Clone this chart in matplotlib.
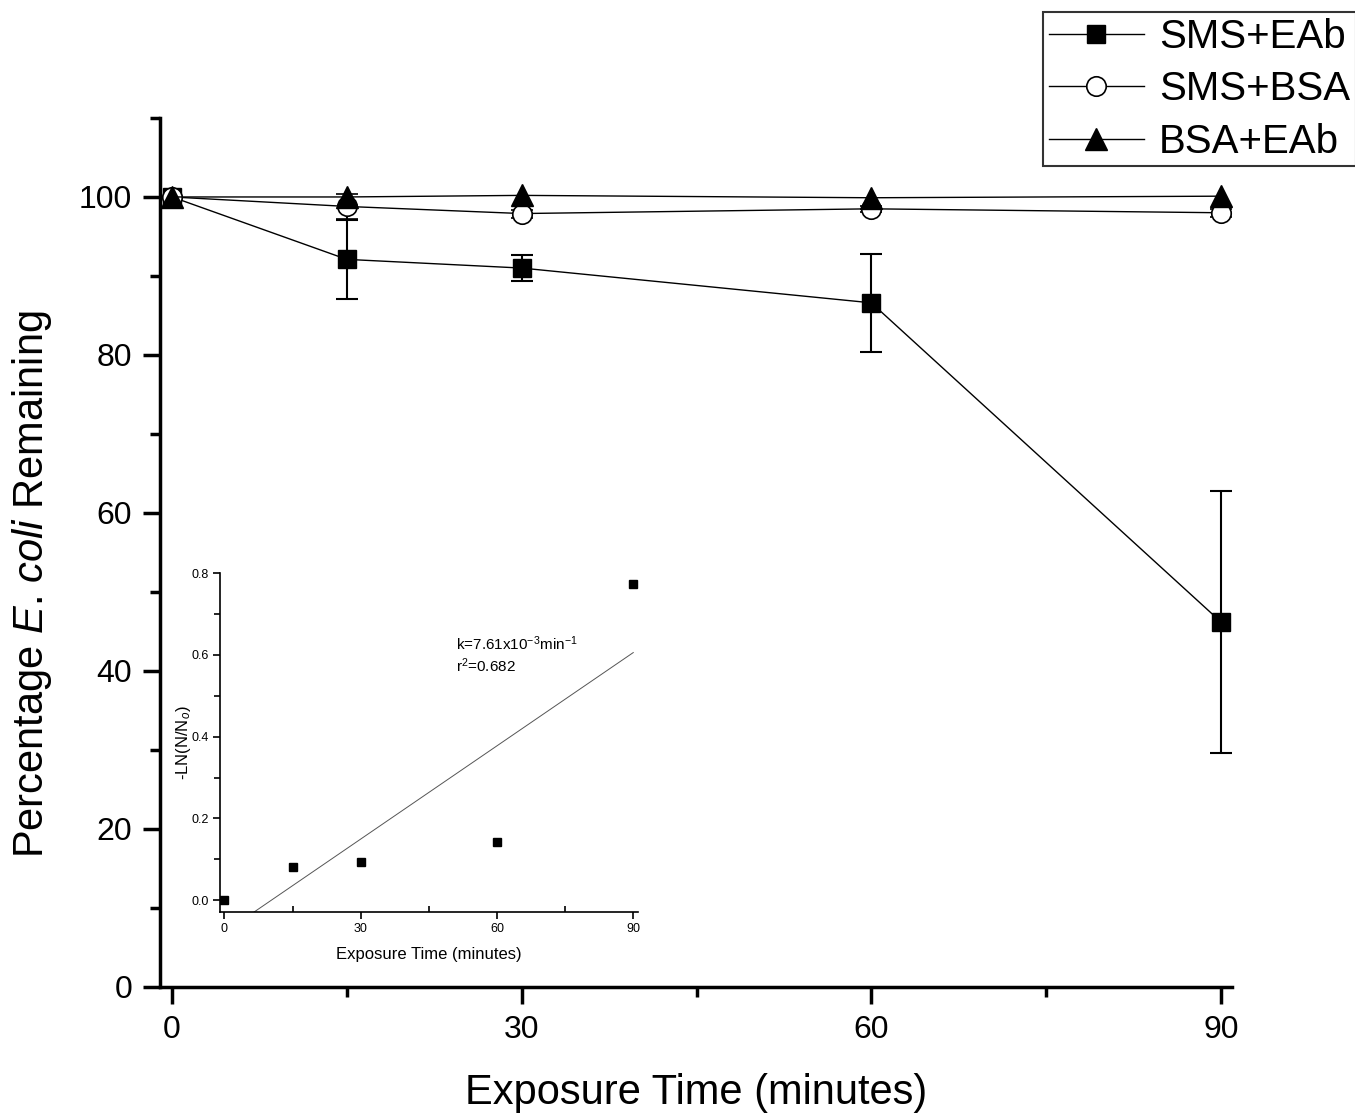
import numpy as np
import matplotlib
matplotlib.use('Agg')
import matplotlib.pyplot as plt
from matplotlib.ticker import MultipleLocator
from matplotlib.lines import Line2D

plt.rcParams['font.family'] = ['Liberation Sans', 'DejaVu Sans']
plt.rcParams['mathtext.fontset'] = 'custom'
plt.rcParams['mathtext.rm'] = 'Liberation Sans'
plt.rcParams['mathtext.it'] = 'Liberation Sans:italic'

# main data
time = [0, 15, 30, 60, 90]
sms_eab = [100, 92.1, 91.0, 86.6, 46.2]
sms_eab_err = [0, 5.0, 1.7, 6.2, 16.6]
sms_bsa = [100, 98.8, 97.9, 98.5, 98.0]
sms_bsa_err = [0, 1.6, 0.5, 0.4, 0.5]
bsa_eab = [100, 100, 100.2, 99.9, 100.1]

# inset data
inset_time = [0, 15, 30, 60, 90]
inset_ln = [0.0, 0.082, 0.094, 0.143, 0.775]
k_fit = 0.00761
b_fit = -0.079

fig = plt.figure(figsize=(13.55, 11.16), dpi=100)
ax = fig.add_axes([0.1181, 0.1156, 0.7911, 0.7787])

ax.errorbar(time, sms_eab, yerr=sms_eab_err, color='black', lw=1.0,
            marker='s', ms=13, mfc='black', mec='black',
            elinewidth=1.5, capsize=8, capthick=1.5, zorder=3)
ax.errorbar(time, sms_bsa, yerr=sms_bsa_err, color='black', lw=1.0,
            marker='o', ms=14, mfc='white', mec='black', mew=1.2,
            elinewidth=1.5, capsize=8, capthick=1.5, zorder=3)
ax.plot(time, bsa_eab, color='black', lw=1.0, marker='^', ms=16,
        mfc='black', mec='black', zorder=4)

ax.set_xlim(-1.03, 90.94)
ax.set_ylim(0, 110)
ax.set_xticks([0, 30, 60, 90])
ax.xaxis.set_minor_locator(MultipleLocator(15))
ax.set_yticks([0, 20, 40, 60, 80, 100])
ax.yaxis.set_minor_locator(MultipleLocator(10))
ax.tick_params(which='major', direction='out', length=12, width=2.5, labelsize=23, pad=8)
ax.tick_params(which='minor', direction='out', length=7, width=2.5)
for s in ['top', 'right']:
    ax.spines[s].set_visible(False)
for s in ['left', 'bottom']:
    ax.spines[s].set_linewidth(2.5)
ax.set_xlabel('Exposure Time (minutes)', fontsize=30, labelpad=20)
ax.set_ylabel(r'Percentage $\mathit{E}$. $\mathit{coli}$ Remaining', fontsize=30)
ax.yaxis.set_label_coords(-0.099, 0.463)

handles = [
    Line2D([], [], color='black', lw=1.0, marker='s', ms=13, mfc='black', mec='black'),
    Line2D([], [], color='black', lw=1.0, marker='o', ms=14, mfc='white', mec='black', mew=1.2),
    Line2D([], [], color='black', lw=1.0, marker='^', ms=16, mfc='black', mec='black'),
]
labels = ['SMS+EAb', 'SMS+BSA', 'BSA+EAb']
leg = fig.legend(handles, labels, loc='upper left', bbox_to_anchor=(1043 / 1355, 1 - 12 / 1116),
                 fontsize=29, frameon=True, fancybox=False, edgecolor='black',
                 handlelength=2.37, handletextpad=0.37, labelspacing=0.36,
                 borderpad=0.14, borderaxespad=0)
leg.get_frame().set_linewidth(1.5)

# inset
ins = fig.add_axes([0.1624, 0.1825, 0.3082, 0.3038])
ins.plot(inset_time, inset_ln, 's', color='black', ms=5.5)
xf = np.array([0, 90])
ins.plot(xf, k_fit * xf + b_fit, color='#555555', lw=0.7)
ins.set_xlim(-0.95, 90.97)
ins.set_ylim(-0.03, 0.8)
ins.set_xticks([0, 30, 60, 90])
ins.xaxis.set_minor_locator(MultipleLocator(15))
ins.set_yticks([0.0, 0.2, 0.4, 0.6, 0.8])
ins.set_yticklabels(['0.0', '0.2', '0.4', '0.6', '0.8'])
ins.yaxis.set_minor_locator(MultipleLocator(0.1))
ins.tick_params(which='major', direction='out', length=5, width=1.2, labelsize=9, pad=3)
ins.tick_params(axis='x', which='minor', direction='in', length=4, width=1.2)
ins.tick_params(axis='y', which='minor', direction='out', length=4, width=1.2)
for s in ['top', 'right']:
    ins.spines[s].set_visible(False)
for s in ['left', 'bottom']:
    ins.spines[s].set_linewidth(1.2)
ins.set_xlabel('Exposure Time (minutes)', fontsize=12, labelpad=8)
ins.set_ylabel(r'-LN(N/N$_o$)', fontsize=12, labelpad=-1)
ins.text(0.565, 0.70, 'k=7.61x10$^{-3}$min$^{-1}$\nr$^2$=0.682', transform=ins.transAxes,
         fontsize=11, va='bottom', ha='left', linespacing=1.2)

fig.savefig('out.png', dpi=100, facecolor='white')
